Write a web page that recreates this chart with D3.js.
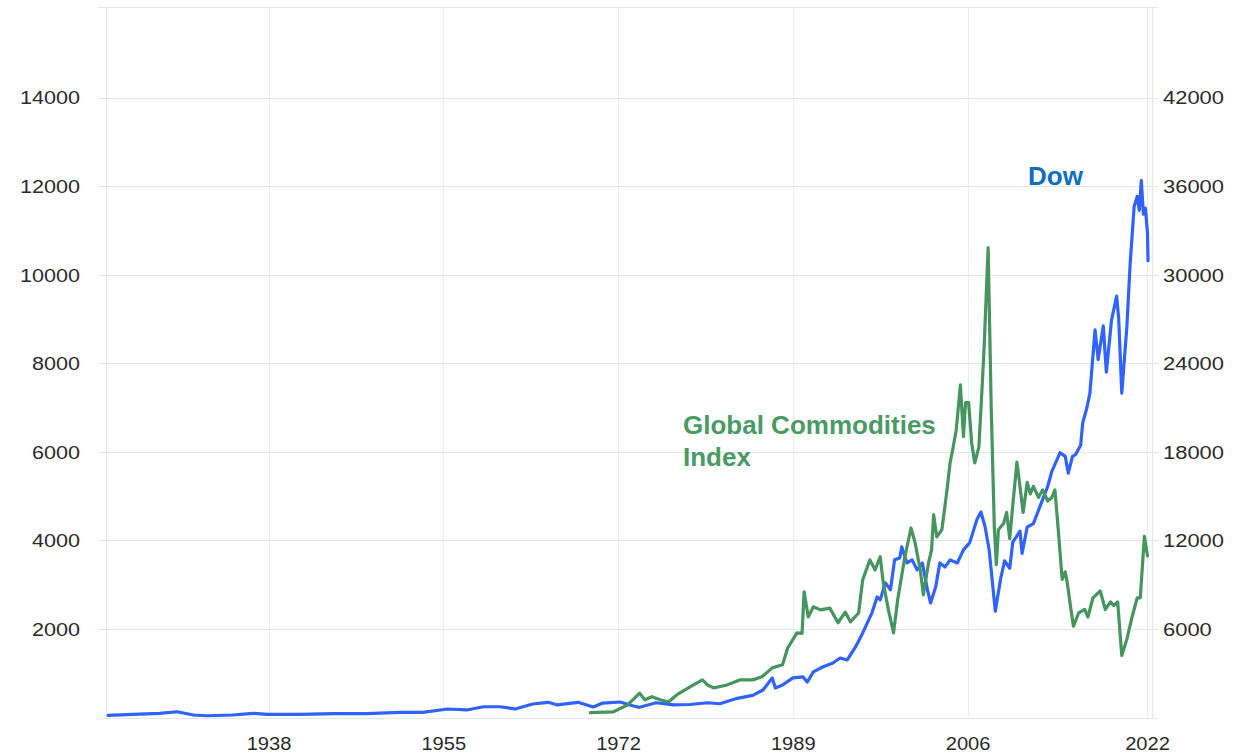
<!DOCTYPE html>
<html>
<head>
<meta charset="utf-8">
<script src="https://cdn.jsdelivr.net/npm/d3@7"></script>
<style>
  html, body { margin: 0; padding: 0; background: #ffffff; }
  svg { display: block; }
</style>
</head>
<body>
<svg id="chart" width="1246" height="755"></svg>
<script>
// ---------------- DATA ----------------
// Dow Jones (right axis) : [year, value]
const dowSeries = [
  [1922.4,150],[1924.8,215],[1927.4,285],[1929.1,390],[1930.7,170],[1932.0,120],
  [1934.5,170],[1936.5,285],[1937.9,215],[1941.1,215],[1944.3,260],[1947.6,260],
  [1950.8,350],[1953.0,350],[1955.4,575],[1957.3,510],[1958.9,730],[1960.5,730],
  [1962.0,575],[1963.7,915],[1965.2,1030],[1966.1,850],[1968.1,1030],[1969.6,710],
  [1970.5,980],[1972.2,1050],[1973.5,780],[1974.1,690],[1975.7,1000],[1977.4,850],
  [1979.0,880],[1980.7,1000],[1981.9,930],[1983.6,1300],[1985.1,1500],[1986.1,1860],
  [1987.0,2680],[1987.3,2000],[1988.0,2200],[1989.0,2680],[1990.0,2750],[1990.4,2400],
  [1991.0,3090],[1991.9,3420],[1992.9,3690],[1993.6,4030],[1994.3,3900],[1995.1,4780],
  [1995.8,5730],[1996.7,7090],[1997.2,8170],[1997.5,7970],[1998.0,9120],[1998.5,8650],
  [1998.9,10680],[1999.4,10810],[1999.6,11560],[2000.1,10470],[2000.6,10680],[2001.1,10000],
  [2001.6,10470],[2002.1,8650],[2002.4,7760],[2002.9,8850],[2003.3,10470],[2003.8,10200],
  [2004.3,10680],[2005.0,10470],[2005.6,11360],[2006.2,11830],[2006.9,13390],[2007.3,13930],
  [2007.7,12920],[2008.1,11360],[2008.7,7200],[2009.2,9350],[2009.6,10610],[2010.1,10110],
  [2010.4,11880],[2011.1,12630],[2011.3,11120],[2011.8,12890],[2012.4,13140],[2013.1,14400],
  [2013.8,15670],[2014.2,16680],[2015.0,17940],[2015.5,17690],[2015.8,16550],[2016.2,17690],
  [2016.5,17810],[2017.0,18450],[2017.2,19960],[2017.6,20970],[2017.9,21980],[2018.4,26270],
  [2018.7,24250],[2019.2,26530],[2019.5,23400],[2020.0,26900],[2020.5,28550],[2020.7,27030],
  [2021.0,21980],[2021.5,26530],[2021.8,30570],[2022.2,34610],[2022.5,35300],[2022.7,34360],
  [2022.9,36380],[2023.1,34100],[2023.3,34500],[2023.5,32840],[2023.55,30950]
];

// Global Commodities Index (left axis) : [year, value]
const commoditySeries = [
  [1969.3,110],[1971.5,125],[1972.9,280],[1974.1,550],[1974.6,400],[1975.3,470],
  [1976.1,400],[1976.9,350],[1977.7,510],[1979.0,690],[1980.2,850],[1980.7,735],
  [1981.3,670],[1982.6,735],[1983.9,850],[1985.1,850],[1986.0,920],[1987.0,1120],
  [1988.0,1190],[1988.5,1570],[1989.4,1910],[1989.9,1900],[1990.1,2840],[1990.5,2270],
  [1991.0,2500],[1991.7,2430],[1992.6,2470],[1993.4,2140],[1994.1,2380],[1994.6,2160],
  [1995.4,2360],[1995.8,3110],[1996.5,3560],[1997.0,3330],[1997.5,3630],[1997.8,3040],
  [1998.3,2430],[1998.8,1910],[1999.2,2660],[1999.9,3630],[2000.5,4280],[2000.9,3940],
  [2001.4,3330],[2001.7,2770],[2002.2,3490],[2002.5,3790],[2002.7,4580],[2003.0,4080],
  [2003.5,4240],[2004.0,5140],[2004.3,5750],[2004.6,6110],[2004.9,6500],[2005.3,7510],
  [2005.6,6340],[2005.8,7110],[2006.1,7110],[2006.4,6200],[2006.7,5750],[2007.1,6110],
  [2007.4,7400],[2007.6,8310],[2008.0,10610],[2008.3,7000],[2008.6,4300],[2008.8,3450],
  [2009.0,4240],[2009.5,4380],[2009.8,4630],[2010.1,4040],[2010.4,4800],[2010.8,5770],
  [2011.1,5220],[2011.4,4630],[2011.8,5310],[2012.1,5050],[2012.4,5220],[2012.9,4970],
  [2013.3,5140],[2013.8,4890],[2014.2,4970],[2014.5,5140],[2014.8,4300],[2015.2,3120],
  [2015.5,3290],[2015.7,3040],[2016.0,2530],[2016.3,2060],[2016.8,2360],[2017.4,2440],
  [2017.7,2270],[2018.2,2700],[2018.9,2860],[2019.4,2440],[2019.9,2610],[2020.2,2530],
  [2020.6,2610],[2021.0,1400],[2021.5,1770],[2022.0,2270],[2022.5,2700],[2022.8,2700],
  [2023.2,4090],[2023.5,3650]
];

// Axis ticks
const xTickPos    = [1938, 1955, 1972, 1989, 2006, 2023.46];
const xTickLabels = ["1938", "1955", "1972", "1989", "2006", "2022"];
const leftTicks   = [2000, 4000, 6000, 8000, 10000, 12000, 14000];
const rightTicks  = [6000, 12000, 18000, 24000, 30000, 36000, 42000];
const leftDomain  = [0, 16000];
const rightDomain = [0, 48000];
const xDomain     = [1922.19, 2023.94];

// ---------------- LAYOUT ----------------
const svg = d3.select("#chart");
const plot = { left: 106, right: 1152, top: 9, bottom: 717.5 };
const gridColor = "#e6e6e6";
const vGridColor = "#e9eef3";
const textColor = "#2b2b2b";
const fontFam = "'Liberation Sans', Arial, sans-serif";

const x = d3.scaleLinear().domain(xDomain).range([plot.left, plot.right]);
const yL = d3.scaleLinear().domain(leftDomain).range([plot.bottom, plot.top]);
const yR = d3.scaleLinear().domain(rightDomain).range([plot.bottom, plot.top]);

// horizontal gridlines (incl. baseline)
const gH = svg.append("g");
gH.selectAll("line.h").data([0].concat(leftTicks)).enter().append("line")
  .attr("x1", plot.left - 8).attr("x2", plot.right + 6)
  .attr("y1", d => Math.round(yL(d)) + 0.5).attr("y2", d => Math.round(yL(d)) + 0.5)
  .attr("stroke", gridColor).attr("stroke-width", 1.2);
// top border
gH.append("line").attr("x1", plot.left - 8).attr("x2", plot.right + 6)
  .attr("y1", 7.5).attr("y2", 7.5).attr("stroke", gridColor).attr("stroke-width", 1.2);

// vertical gridlines
const gV = svg.append("g");
gV.selectAll("line.v").data(xTickPos).enter().append("line")
  .attr("x1", d => Math.round(x(d)) + 0.5).attr("x2", d => Math.round(x(d)) + 0.5)
  .attr("y1", 7.5).attr("y2", plot.bottom)
  .attr("stroke", vGridColor).attr("stroke-width", 1.2);
// left & right axis lines
[plot.left, plot.right].forEach(px => {
  gV.append("line").attr("x1", px + 0.5).attr("x2", px + 0.5)
    .attr("y1", 7.5).attr("y2", plot.bottom + 0.5)
    .attr("stroke", "#e4e8ec").attr("stroke-width", 1.4);
});

// axes labels via d3 axes (tick lines hidden; gridlines drawn above)
function stretchLabels(sel, perChar) {
  sel.selectAll("text").each(function() {
    const t = d3.select(this);
    const n = t.text().length;
    t.attr("textLength", n * perChar).attr("lengthAdjust", "spacingAndGlyphs");
  });
}

const axL = svg.append("g").attr("transform", `translate(${plot.left},0)`)
  .call(d3.axisLeft(yL).tickValues(leftTicks).tickSize(0).tickPadding(26).tickFormat(d3.format("d")));
axL.select(".domain").remove();
axL.selectAll("text").attr("font-family", fontFam).attr("font-size", 18).attr("fill", textColor).attr("dy", "0.35em");
stretchLabels(axL, 12);

const axR = svg.append("g").attr("transform", `translate(${plot.right},0)`)
  .call(d3.axisRight(yR).tickValues(rightTicks).tickSize(0).tickPadding(11).tickFormat(d3.format("d")));
axR.select(".domain").remove();
axR.selectAll("text").attr("font-family", fontFam).attr("font-size", 18).attr("fill", textColor).attr("dy", "0.35em");
stretchLabels(axR, 12.2);

const axB = svg.append("g").attr("transform", `translate(0,${plot.bottom})`)
  .call(d3.axisBottom(x).tickValues(xTickPos).tickSize(0).tickPadding(20)
    .tickFormat((d, i) => xTickLabels[i]));
axB.select(".domain").remove();
axB.selectAll("text").attr("font-family", fontFam).attr("font-size", 17.5).attr("fill", textColor);
stretchLabels(axB, 11.2);

// ---------------- LINES ----------------
const lineDow = d3.line().x(d => x(d[0])).y(d => yR(d[1]));
const lineCom = d3.line().x(d => x(d[0])).y(d => yL(d[1]));

svg.append("path").datum(dowSeries)
  .attr("d", lineDow).attr("fill", "none")
  .attr("stroke", "#2f62ff").attr("stroke-width", 3.2)
  .attr("stroke-linejoin", "round").attr("stroke-linecap", "round");

svg.append("path").datum(commoditySeries)
  .attr("d", lineCom).attr("fill", "none")
  .attr("stroke", "#46955f").attr("stroke-width", 3.2)
  .attr("stroke-linejoin", "round").attr("stroke-linecap", "round");

// ---------------- ANNOTATIONS ----------------
svg.append("text").attr("x", 1028).attr("y", 185)
  .attr("font-family", fontFam).attr("font-weight", "bold").attr("font-size", 26)
  .attr("fill", "#0b6fc4").text("Dow");

const lbl = svg.append("text").attr("x", 683).attr("y", 434)
  .attr("font-family", fontFam).attr("font-weight", "bold").attr("font-size", 26)
  .attr("fill", "#4a9a66");
lbl.append("tspan").attr("x", 683).attr("y", 434).text("Global Commodities");
lbl.append("tspan").attr("x", 683).attr("y", 466).text("Index");
</script>
</body>
</html>
